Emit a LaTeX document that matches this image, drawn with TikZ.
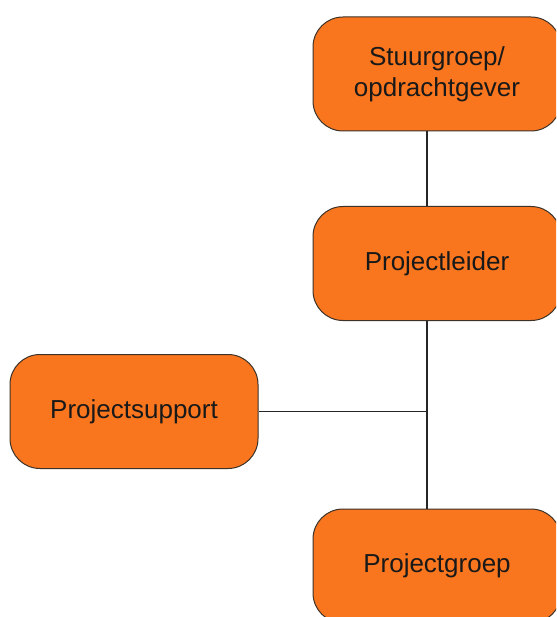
\documentclass[tikz,border=0pt]{standalone}
\usepackage{fontspec}
\setmainfont{Liberation Sans}
\definecolor{boxfill}{RGB}{250,118,30}
\definecolor{boxline}{RGB}{60,50,40}
\begin{document}
\begin{tikzpicture}[x=1pt,y=-1pt,
  orgbox/.style={draw=boxline, line width=1pt, fill=boxfill, rounded corners=30pt,
    minimum width=248pt, minimum height=114pt, inner sep=0pt, align=center,
    font=\fontsize{26}{31}\selectfont, text=black!90},
  conn/.style={draw=black!85, line width=1.2pt}]
\useasboundingbox (0,0) rectangle (556,617);
\begin{scope}
\clip (0,0) rectangle (556,617);
\node[orgbox] (s) at (437,74) {Stuurgroep/\\opdrachtgever};
\node[orgbox] (l) at (437,263.5) {Projectleider};
\node[orgbox] (p) at (134,411.5) {Projectsupport};
\node[orgbox] (g) at (437,566) {Projectgroep};
\coordinate (j) at (427,411.5);
\draw[conn] (s.south -| j) -- (l.north -| j);
\draw[conn] (l.south -| j) -- (g.north -| j);
\draw[conn] (p.east) -- (j);
\end{scope}
\end{tikzpicture}
\end{document}
